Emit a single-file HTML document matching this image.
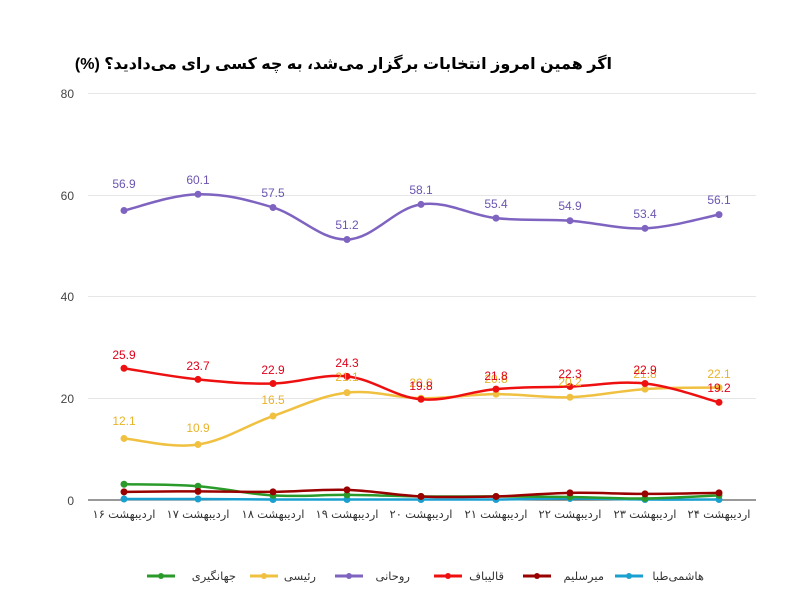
<!DOCTYPE html>
<html><head><meta charset="utf-8"><style>
html,body{margin:0;padding:0;background:#fff;}
svg{display:block;font-family:"Liberation Sans","DejaVu Sans",sans-serif;}
</style></head><body>
<svg id="c" width="800" height="601" xmlns="http://www.w3.org/2000/svg">
<rect width="800" height="601" fill="#fff"/>
<text x="612" y="69" text-anchor="start" direction="rtl" font-size="16" font-weight="bold" fill="#000">اگر همین امروز انتخابات برگزار می‌شد، به چه کسی رای می‌دادید؟ (%)</text>
<g stroke="#e6e6e6" stroke-width="1">
<line x1="88" y1="93.5" x2="756" y2="93.5"/>
<line x1="88" y1="195.5" x2="756" y2="195.5"/>
<line x1="88" y1="296.5" x2="756" y2="296.5"/>
<line x1="88" y1="398.5" x2="756" y2="398.5"/>
</g>
<line x1="88" y1="500" x2="756" y2="500" stroke="#333" stroke-width="1"/>
<g font-size="12" fill="#444" text-anchor="end">
<text x="74" y="98">80</text><text x="74" y="200">60</text><text x="74" y="301">40</text><text x="74" y="403">20</text><text x="74" y="505">0</text>
</g>
<g font-size="11.5" fill="#333" text-anchor="middle" direction="rtl">
<text x="124" y="518">اردیبهشت ۱۶</text>
<text x="198" y="518">اردیبهشت ۱۷</text>
<text x="273" y="518">اردیبهشت ۱۸</text>
<text x="347" y="518">اردیبهشت ۱۹</text>
<text x="421" y="518">اردیبهشت ۲۰</text>
<text x="496" y="518">اردیبهشت ۲۱</text>
<text x="570" y="518">اردیبهشت ۲۲</text>
<text x="645" y="518">اردیبهشت ۲۳</text>
<text x="719" y="518">اردیبهشت ۲۴</text>
</g>
<g id="series"></g>
<g font-size="12" text-anchor="middle" fill="#6b55b0">
<text x="124" y="188">56.9</text><text x="198" y="184">60.1</text><text x="273" y="197">57.5</text><text x="347" y="229">51.2</text><text x="421" y="194">58.1</text><text x="496" y="208">55.4</text><text x="570" y="210">54.9</text><text x="645" y="218">53.4</text><text x="719" y="204">56.1</text>
</g>
<g font-size="12" text-anchor="middle" fill="#e8b32a">
<text x="124" y="425">12.1</text><text x="198" y="432">10.9</text><text x="273" y="404">16.5</text><text x="347" y="381">21.1</text><text x="421" y="387">20.0</text><text x="496" y="383">20.8</text><text x="570" y="386">20.2</text><text x="645" y="378">21.8</text><text x="719" y="378">22.1</text>
</g>
<g font-size="12" text-anchor="middle" fill="#e0001a">
<text x="124" y="359">25.9</text><text x="198" y="370">23.7</text><text x="273" y="374">22.9</text><text x="347" y="367">24.3</text><text x="421" y="390">19.8</text><text x="496" y="380">21.8</text><text x="570" y="378">22.3</text><text x="645" y="374">22.9</text><text x="719" y="392">19.2</text>
</g>
<g font-size="11.5" fill="#333" text-anchor="start" direction="rtl">
<line x1="147" y1="576" x2="175" y2="576" stroke="#2a9a2a" stroke-width="3"/><circle cx="161" cy="576" r="3" fill="#2a9a2a"/><text x="236" y="580">جهانگیری</text>
<line x1="250" y1="576" x2="278" y2="576" stroke="#f0c040" stroke-width="3"/><circle cx="264" cy="576" r="3" fill="#f0c040"/><text x="316" y="580">رئیسی</text>
<line x1="335" y1="576" x2="363" y2="576" stroke="#7e63c0" stroke-width="3"/><circle cx="349" cy="576" r="3" fill="#7e63c0"/><text x="410" y="580">روحانی</text>
<line x1="434" y1="576" x2="462" y2="576" stroke="#ee1010" stroke-width="3"/><circle cx="448" cy="576" r="3" fill="#ee1010"/><text x="504" y="580">قالیباف</text>
<line x1="523" y1="576" x2="551" y2="576" stroke="#990000" stroke-width="3"/><circle cx="537" cy="576" r="3" fill="#990000"/><text x="604" y="580">میرسلیم</text>
<line x1="615" y1="576" x2="643" y2="576" stroke="#1aa0d0" stroke-width="3"/><circle cx="629" cy="576" r="3" fill="#1aa0d0"/><text x="704" y="580">هاشمی‌طبا</text>
</g>
</svg>
<script>
var X=[124,198,273,347,421,496,570,645,719];
function Y(v){return 500-v*5.0875;}
var S=[
["#1aa0d0",[0.2,0.2,0.1,0.1,0.1,0.1,0.3,0.1,0.1]],
["#2a9a2a",[3.1,2.7,0.9,1.0,0.7,0.7,0.6,0.3,0.9]],
["#990000",[1.6,1.7,1.6,2.0,0.7,0.7,1.4,1.2,1.4]],
["#f0c040",[12.1,10.9,16.5,21.1,20.0,20.8,20.2,21.8,22.1]],
["#ee1010",[25.9,23.7,22.9,24.3,19.8,21.8,22.3,22.9,19.2]],
["#7e63c0",[56.9,60.1,57.5,51.2,58.1,55.4,54.9,53.4,56.1]]];
var g=document.getElementById('series'),h='';
S.forEach(function(s){var p=X.map(function(x,i){return [x,Y(s[1][i])];});
var d='M'+p[0][0]+','+p[0][1];
for(var i=0;i<p.length-1;i++){var p0=p[i-1]||p[i],p1=p[i],p2=p[i+1],p3=p[i+2]||p2;
var t=0.18;d+=' C'+(p1[0]+(p2[0]-p0[0])*t)+','+(p1[1]+(p2[1]-p0[1])*t)+' '+(p2[0]-(p3[0]-p1[0])*t)+','+(p2[1]-(p3[1]-p1[1])*t)+' '+p2[0]+','+p2[1];}
h+='<path d="'+d+'" fill="none" stroke="'+s[0]+'" stroke-width="2.5"/>';
p.forEach(function(q){h+='<circle cx="'+q[0]+'" cy="'+q[1]+'" r="3.5" fill="'+s[0]+'"/>';});});
g.innerHTML=h;
</script>
</body></html>
